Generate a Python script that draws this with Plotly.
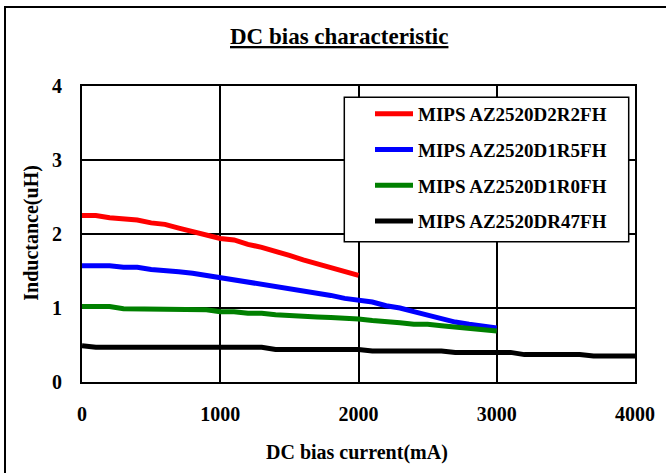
import plotly.graph_objects as go

# DC bias current (mA)
current_d2r2 = list(range(0, 2001, 100))
current_d1r5 = list(range(0, 3001, 100))
current_d1r0 = list(range(0, 3001, 100))
current_dr47 = list(range(0, 4001, 100))

# Inductance (uH)
ind_d2r2 = [2.25, 2.25, 2.22, 2.21, 2.19, 2.15, 2.13, 2.08, 2.03, 1.98, 1.94,
            1.92, 1.86, 1.82, 1.77, 1.71, 1.65, 1.60, 1.55, 1.49, 1.44]
ind_d1r5 = [1.57, 1.57, 1.57, 1.55, 1.55, 1.52, 1.51, 1.49, 1.47, 1.44, 1.41,
            1.39, 1.36, 1.33, 1.29, 1.26, 1.24, 1.21, 1.17, 1.13, 1.11,
            1.08, 1.03, 1.00, 0.95, 0.90, 0.86, 0.81, 0.78, 0.76, 0.73]
ind_d1r0 = [1.02, 1.02, 1.02, 0.99, 0.99, 0.99, 0.99, 0.98, 0.98, 0.975, 0.95,
            0.95, 0.93, 0.93, 0.91, 0.905, 0.885, 0.88, 0.87, 0.865, 0.85,
            0.83, 0.82, 0.80, 0.78, 0.78, 0.76, 0.74, 0.735, 0.715, 0.69]
ind_dr47 = [0.49, 0.47, 0.47, 0.47, 0.47, 0.47, 0.47, 0.47, 0.47, 0.47, 0.47,
            0.47, 0.47, 0.47, 0.44, 0.44, 0.44, 0.44, 0.44, 0.44, 0.44,
            0.42, 0.42, 0.42, 0.42, 0.42, 0.42, 0.40, 0.40, 0.40, 0.40,
            0.40, 0.37, 0.37, 0.37, 0.37, 0.37, 0.35, 0.35, 0.35, 0.35]

series_names = ["MIPS AZ2520D2R2FH", "MIPS AZ2520D1R5FH",
                "MIPS AZ2520D1R0FH", "MIPS AZ2520DR47FH"]
series_colors = ["#FF0000", "#0000FF", "#008000", "#000000"]

x_ticks = [0, 1000, 2000, 3000, 4000]
y_ticks = [0, 1, 2, 3, 4]

FONT = "Liberation Serif, Times New Roman, serif"

fig = go.Figure()
data = [(current_d2r2, ind_d2r2), (current_d1r5, ind_d1r5),
        (current_d1r0, ind_d1r0), (current_dr47, ind_dr47)]
for i, ((xs, ys), name, col) in enumerate(zip(data, series_names, series_colors)):
    fig.add_trace(go.Scatter(x=xs, y=ys, mode="lines", name=name,
                             legendgroup=f"g{i}",
                             line=dict(color=col, width=5)))

W, H = 666, 473
L, R, T, B = 82, 31, 86, 91
pw, ph = W - L - R, H - T - B


def px(x):
    return (x - L) / pw


def py(y):
    return (H - B - y) / ph


fig.update_layout(
    width=W, height=H, autosize=False,
    margin=dict(l=L, r=R, t=T, b=B),
    paper_bgcolor="white", plot_bgcolor="white",
    font=dict(family=FONT, color="black"),
    showlegend=True,
    legend=dict(x=px(370), y=py(95), xanchor="left", yanchor="top",
                bgcolor="rgba(0,0,0,0)", borderwidth=0,
                font=dict(family=FONT, size=19, color="black", weight="bold"),
                itemwidth=38, tracegroupgap=8),
    xaxis=dict(range=[0, 4000], tickvals=x_ticks,
               ticktext=[str(v) for v in x_ticks],
               showgrid=True, gridcolor="black", gridwidth=1.5,
               showline=True, linecolor="black", linewidth=2, mirror=True,
               zeroline=False, ticks="", ticklabelstandoff=13,
               tickfont=dict(family=FONT, size=20, color="black", weight="bold")),
    yaxis=dict(range=[0, 4], tickvals=y_ticks,
               ticktext=[str(v) for v in y_ticks],
               showgrid=True, gridcolor="black", gridwidth=1.5,
               showline=True, linecolor="black", linewidth=2, mirror=True,
               zeroline=False, ticks="", ticklabelstandoff=14,
               tickfont=dict(family=FONT, size=20, color="black", weight="bold")),
    shapes=[
        dict(type="rect", xref="paper", yref="paper",
             x0=px(5), x1=px(680), y0=py(490), y1=py(7),
             line=dict(color="black", width=2), fillcolor="rgba(0,0,0,0)",
             layer="below"),
        dict(type="rect", xref="paper", yref="paper",
             x0=px(344.3), x1=px(628.7), y0=py(241.7), y1=py(97.3),
             line=dict(color="black", width=1.5), fillcolor="white",
             layer="above"),
    ],
    annotations=[
        dict(text="<u>DC bias characteristic</u>", xref="paper", yref="paper",
             x=px(338.5), y=py(37), xanchor="center", yanchor="middle",
             showarrow=False,
             font=dict(family=FONT, size=23, color="black", weight="bold")),
        dict(text="Inductance(uH)", xref="paper", yref="paper",
             x=px(30.7), y=py(233), xanchor="center", yanchor="middle",
             textangle=-90, showarrow=False,
             font=dict(family=FONT, size=20, color="black", weight="bold")),
        dict(text="DC bias current(mA)", xref="paper", yref="paper",
             x=px(357), y=py(452), xanchor="center", yanchor="middle",
             showarrow=False,
             font=dict(family=FONT, size=20, color="black", weight="bold")),
    ],
)

fig.write_html("out.html",
               config={"displayModeBar": False, "responsive": False},
               post_script="document.body.style.margin='0';"
                           "document.body.style.overflow='hidden';")
